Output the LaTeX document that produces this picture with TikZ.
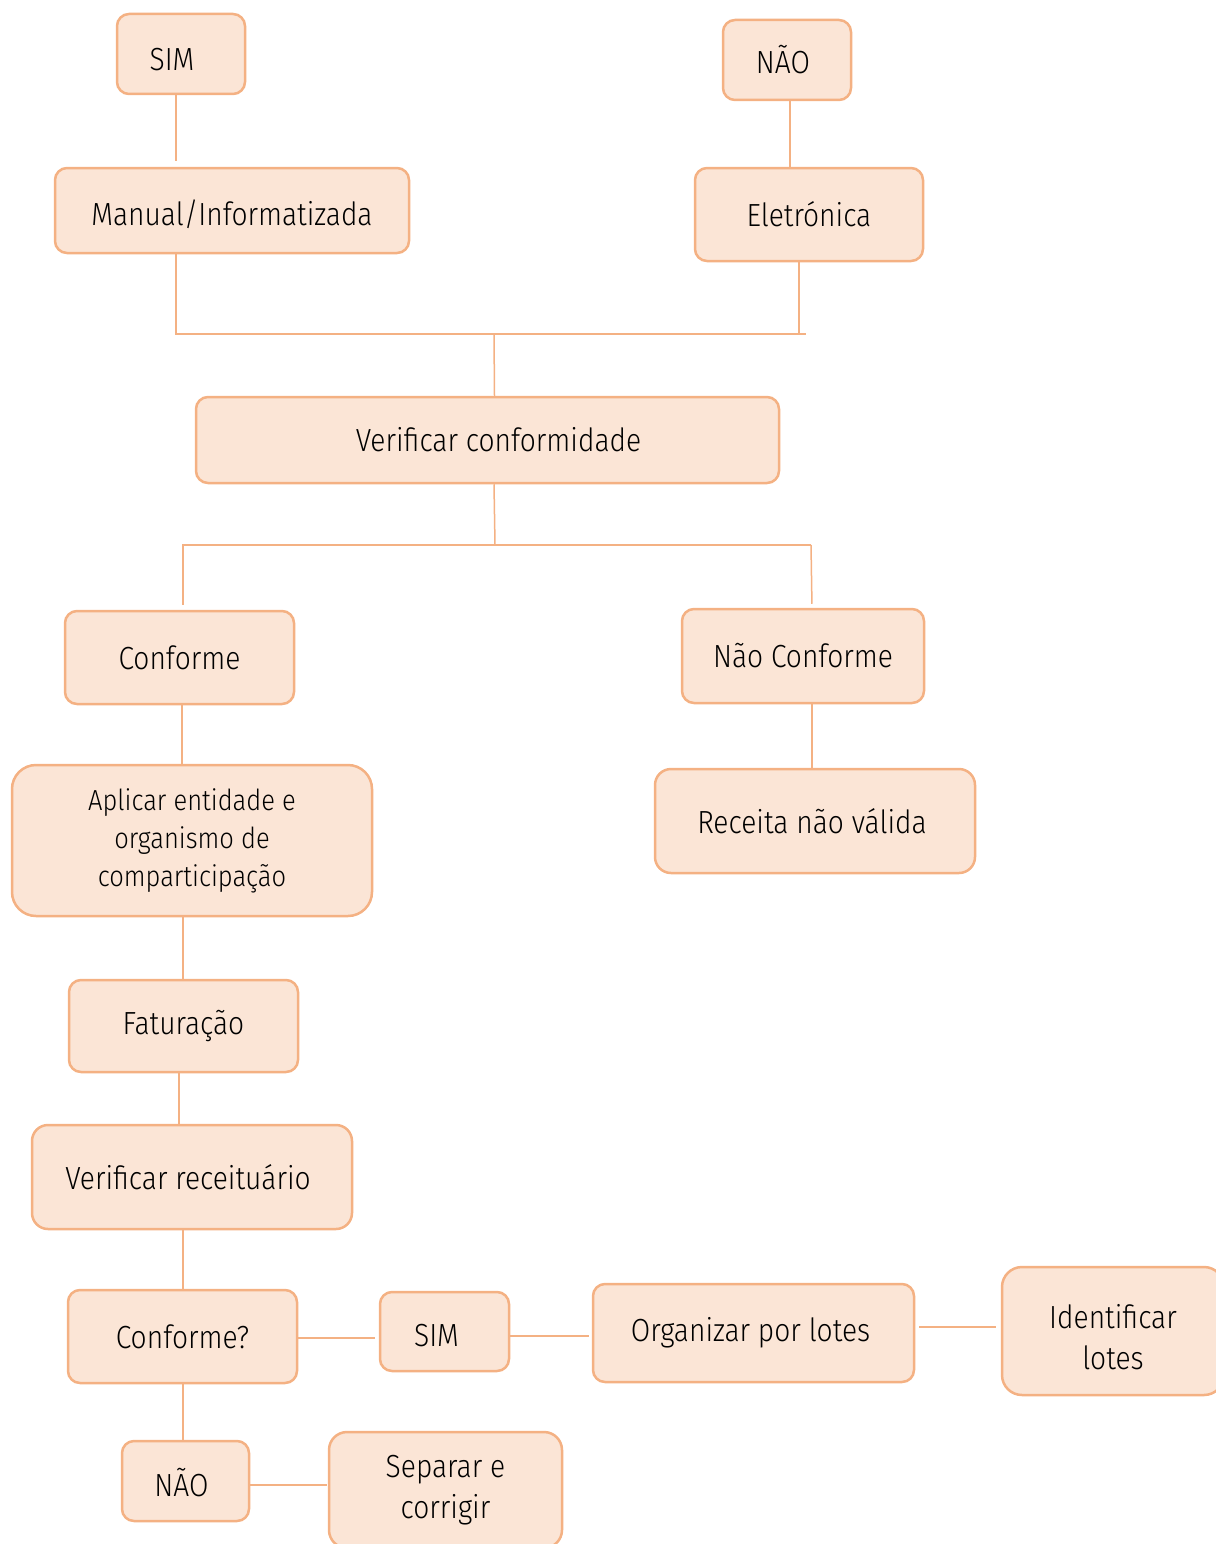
\documentclass[tikz,border=0pt]{standalone}
\usepackage{fontspec}
\setmainfont{Fira Sans Light}[FakeStretch=0.88]
\definecolor{boxfill}{HTML}{FBE5D6}
\definecolor{boxline}{HTML}{F4B183}
\newcommand\tshift[2]{\hspace*{#1}#2}
\tikzset{
  box/.style={draw=boxline, fill=boxfill, line width=2.5pt, rounded corners=12pt,
    align=center, inner sep=0pt, text=black,
    font=\fontsize{32}{41}\selectfont},
  smalltext/.style={font=\fontsize{29}{38}\selectfont},
  conn/.style={draw=boxline, line width=1.5pt}
}
\begin{document}
\begin{tikzpicture}[x=1pt,y=-1pt]
\useasboundingbox (0,0) rectangle (1215,1544);
% boxes
\node[box, minimum width=128pt, minimum height=80pt, text height=34pt, text depth=0pt] (sim1) at (181,54) {\tshift{-18pt}{SIM}};
\node[box, minimum width=128pt, minimum height=80pt] (nao1) at (787,60) {\tshift{-8pt}{NÃO}};
\node[box, minimum width=354pt, minimum height=85pt, text height=29pt, text depth=0pt] (man) at (232,210.5) {Manual/Informatizada};
\node[box, minimum width=228pt, minimum height=93pt] (ele) at (809,214.5) {Eletrónica};
\node[box, minimum width=583pt, minimum height=86pt] (ver) at (487.5,440) {\tshift{22pt}{Verificar conformidade}};
\node[box, minimum width=229pt, minimum height=93pt] (conf) at (179.5,657.5) {Conforme};
\node[box, minimum width=242pt, minimum height=94pt] (nconf) at (803,656) {Não Conforme};
\node[box, minimum width=320pt, minimum height=104pt, rounded corners=16pt] (rec) at (815,821) {\tshift{-6pt}{Receita não válida}};
\node[box, smalltext, minimum width=360pt, minimum height=151pt, rounded corners=24pt] (apl) at (192,840.5) {Aplicar entidade e\\organismo de\\comparticipação};
\node[box, minimum width=229pt, minimum height=92pt] (fat) at (183.5,1026) {Faturação};
\node[box, minimum width=320pt, minimum height=104pt, rounded corners=16pt] (vrec) at (192,1177) {\tshift{-8pt}{Verificar receituário}};
\node[box, minimum width=229pt, minimum height=93pt] (confq) at (182.5,1336.5) {Conforme?};
\node[box, minimum width=129pt, minimum height=79pt, text height=30pt, text depth=0pt] (sim2) at (444.5,1331.5) {\tshift{-16pt}{SIM}};
\node[box, minimum width=321pt, minimum height=98pt] (org) at (753.5,1333) {\tshift{-6pt}{Organizar por lotes}};
\node[box, minimum width=222pt, minimum height=128pt, rounded corners=20pt] (idl) at (1113,1331) {\rule{0pt}{37pt}Identificar\\lotes};
\node[box, minimum width=127pt, minimum height=80pt, text height=30pt, text depth=0pt] (nao2) at (185.5,1481) {\tshift{-8pt}{NÃO}};
\node[box, minimum width=233pt, minimum height=116pt, rounded corners=18pt] (sep) at (445.5,1490) {Separar e\\corrigir};
% junction coordinates
\coordinate (j1l) at (176,334);
\coordinate (j1r) at (806,334);
\coordinate (j1m) at (494,334);
\coordinate (j2l) at (182,545);
\coordinate (j2r) at (811,545);
\coordinate (j2m) at (495,545);
% connectors
\draw[conn, shorten >=6pt] ([xshift=-5pt]sim1.south) -- ([xshift=-56pt]man.north);
\draw[conn] ([xshift=3pt]nao1.south) -- ([xshift=-19pt]ele.north);
\draw[conn] ([xshift=-56pt]man.south) -- (j1l) -- (j1r);
\draw[conn] ([xshift=-10pt]ele.south) -- ([xshift=-10pt]ele.south |- j1r);
\draw[conn] (j1m) -- ([xshift=7pt]ver.north);
\draw[conn] ([xshift=6.5pt]ver.south) -- (j2m);
\draw[conn] (j2l) -- (j2r);
\draw[conn, shorten >=5pt] ([xshift=1pt]j2l) -- ([xshift=3.5pt]conf.north);
\draw[conn, shorten >=4pt] (j2r) -- ([xshift=9pt]nconf.north);
\draw[conn] ([xshift=2.5pt]conf.south) -- ([xshift=-10pt]apl.north);
\draw[conn] ([xshift=9pt]nconf.south) -- ([xshift=-3pt]rec.north);
\draw[conn] ([xshift=-9pt]apl.south) -- ([xshift=-0.5pt]fat.north);
\draw[conn] ([xshift=-4.5pt]fat.south) -- ([xshift=-13pt]vrec.north);
\draw[conn] ([xshift=-9pt]vrec.south) -- ([xshift=0.5pt]confq.north);
\draw[conn, shorten >=4pt] ([yshift=-1.5pt]confq.east) -- ([yshift=-1.5pt]confq.east -| sim2.west);
\draw[conn, shorten >=3pt] ([yshift=-4.5pt]sim2.east) -- ([yshift=-4.5pt]sim2.east -| org.west);
\draw[conn, shorten <=4pt, shorten >=5pt] ([yshift=6pt]org.east) -- ([yshift=6pt]org.east -| idl.west);
\draw[conn] ([xshift=0.5pt]confq.south) -- ([xshift=-2.5pt]nao2.north);
\draw[conn, shorten >=1pt] ([yshift=-4pt]nao2.east) -- ([yshift=-4pt]nao2.east -| sep.west);
\end{tikzpicture}
\end{document}
